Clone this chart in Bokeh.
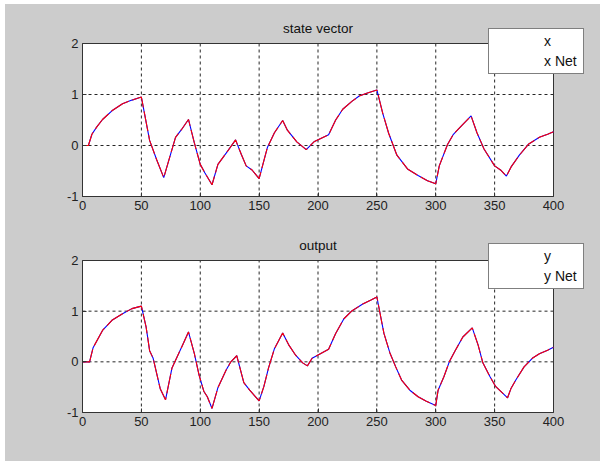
from bokeh.plotting import figure
from bokeh.models import Range1d, FixedTicker, Legend, LegendItem, Label, BoxAnnotation
from bokeh.core.properties import value
from bokeh.layouts import column
from bokeh.embed import file_html
from bokeh.resources import INLINE

# ---- data ----
t_x = [0, 5, 8, 12, 17, 25, 34, 42, 50, 57, 63, 69, 79, 84, 90, 95, 100, 104, 110,
       115, 122, 130, 135, 139, 144, 150, 157, 163, 170, 174, 182, 190, 197, 209,
       215, 221, 229, 235, 242, 250, 255, 260, 267, 276, 285, 293, 300, 303, 310,
       315, 322, 330, 335, 341, 350, 355, 360, 364, 371, 379, 388, 395, 400]
x_state = [0, 0, 0.22, 0.36, 0.51, 0.68, 0.82, 0.89, 0.95, 0.10, -0.28, -0.63, 0.16,
           0.31, 0.51, 0.05, -0.37, -0.54, -0.77, -0.37, -0.15, 0.11, -0.18, -0.40,
           -0.48, -0.65, -0.04, 0.25, 0.49, 0.30, 0.07, -0.08, 0.08, 0.21, 0.50,
           0.71, 0.87, 0.97, 1.03, 1.09, 0.63, 0.24, -0.19, -0.46, -0.59, -0.69,
           -0.75, -0.40, 0.02, 0.22, 0.39, 0.58, 0.25, -0.07, -0.40, -0.48, -0.60,
           -0.42, -0.19, 0.03, 0.16, 0.22, 0.27]
x_net = list(x_state)

t_y = [0, 6, 9, 17, 25, 34, 42, 50, 54, 57, 60, 66, 70.5, 76, 81, 86, 90, 95, 99,
       103, 106, 110, 115, 122, 126, 131, 137, 142, 150, 154, 158, 163, 170, 175,
       181, 187, 191, 195, 202, 209, 215, 222, 229, 238, 245, 250, 256, 261, 266,
       271, 278, 285, 292, 300, 302, 307, 311.5, 316, 323, 331, 336, 340, 346,
       351, 361, 364, 368, 375, 382, 388, 395, 400]
y_out = [0, 0, 0.28, 0.62, 0.82, 0.95, 1.05, 1.10, 0.69, 0.22, 0.07, -0.53, -0.75,
         -0.12, 0.13, 0.38, 0.59, 0.16, -0.26, -0.58, -0.69, -0.92, -0.51, -0.16,
         0.0, 0.12, -0.41, -0.56, -0.77, -0.49, -0.12, 0.26, 0.57, 0.34, 0.13,
         -0.02, -0.08, 0.07, 0.16, 0.25, 0.56, 0.85, 1.01, 1.14, 1.22, 1.28, 0.56,
         0.18, -0.10, -0.36, -0.56, -0.69, -0.78, -0.86, -0.56, -0.29, 0.0, 0.20,
         0.49, 0.67, 0.33, -0.02, -0.29, -0.49, -0.71, -0.52, -0.36, -0.10, 0.07,
         0.16, 0.23, 0.29]
y_net = list(y_out)

x_ticks = [0, 50, 100, 150, 200, 250, 300, 350, 400]
y_ticks = [-1, 0, 1, 2]
y_tick_labels = {-1: "-1", 0: "0", 1: "1", 2: "2"}

FONT = "Liberation Sans"
GREY = "#cccccc"
EDGE = "#333333"
BLUE = "#0000ff"
RED = "#ff0000"

OFF_X, OFF_Y = 5, 4     # white page strip left/top of the grey figure area
W = 600 - OFF_X
LEFT = 82 - OFF_X       # x=0 sits at page x 82
PX_PER_X = 471 / 400.0

# legend geometry (pixels, relative to the axes' bottom-left corner)
LEG_X = 406
LEG_PAD = 3
ROW_H = 18
ROW_GAP = 2
SAMPLE_X0, SAMPLE_X1 = 415, 457


def make_panel(title, t, s, s_net, lab, lab_net, height, top, bottom, axes_px, leg_y):
    frame_w = W - LEFT - 5
    frame_h = height - top - bottom
    px_per_y = axes_px / 3.0
    x0, x1 = x_ticks[0], x_ticks[-1]
    y0, y1 = y_ticks[0], y_ticks[-1]
    p = figure(width=W, height=height,
               x_range=Range1d(x0, x0 + frame_w / PX_PER_X),
               y_range=Range1d(y0, y0 + frame_h / px_per_y),
               output_backend="svg", toolbar_location=None,
               min_border_left=LEFT, min_border_right=5,
               min_border_top=top, min_border_bottom=bottom)
    p.title = None
    p.border_fill_color = GREY
    p.background_fill_color = GREY
    p.outline_line_color = None
    p.xgrid.visible = False
    p.ygrid.visible = False

    # white axes area
    p.add_layout(BoxAnnotation(left=x0, right=x1, bottom=y0, top=y1,
                               fill_color="white", fill_alpha=1,
                               line_color=None, level="image"))

    p.xaxis.ticker = FixedTicker(ticks=x_ticks)
    p.yaxis.ticker = FixedTicker(ticks=y_ticks)
    p.yaxis.major_label_overrides = y_tick_labels
    p.xaxis.bounds = (x0, x1)
    p.yaxis.bounds = (y0, y1)
    for ax in (p.xaxis, p.yaxis):
        ax.major_tick_in = 4
        ax.major_tick_out = 0
        ax.minor_tick_line_color = None
        ax.axis_line_color = EDGE
        ax.major_tick_line_color = EDGE
        ax.major_label_text_font = FONT
        ax.major_label_text_font_size = "13px"
        ax.major_label_text_color = "#222222"
    p.xaxis.major_label_standoff = 4
    p.yaxis.major_label_standoff = 4

    # dotted grid (MATLAB style), spanning the axes box only
    g1 = p.segment(x0=x_ticks, x1=x_ticks, y0=[y0] * len(x_ticks), y1=[y1] * len(x_ticks),
                   line_color="black", line_dash="3 3", line_alpha=0.85, line_width=1)
    g2 = p.segment(x0=[x0] * len(y_ticks), x1=[x1] * len(y_ticks), y0=y_ticks, y1=y_ticks,
                   line_color="black", line_dash="3 3", line_alpha=0.85, line_width=1)
    # top and right edges of the axes box
    g3 = p.segment(x0=[x0, x1], y0=[y1, y0], x1=[x1, x1], y1=[y1, y1],
                   line_color=EDGE, line_width=1)
    for g in (g1, g2, g3):
        g.level = "underlay"

    r1 = p.line(t, s, line_color=BLUE, line_width=1.1)
    r2 = p.line(t, s_net, line_color=RED, line_width=1.1, line_dash="20 4")

    # legend box and labels (item glyphs are drawn separately below)
    k1 = p.line([], [], line_color=BLUE, line_width=1.1)
    k2 = p.line([], [], line_color=RED, line_width=1.1, line_dash="24 6")
    legend = Legend(items=[LegendItem(label=value(lab), renderers=[k1]),
                           LegendItem(label=value(lab_net), renderers=[k2])],
                    location=(LEG_X, leg_y))
    legend.level = "annotation"
    legend.border_line_color = "black"
    legend.border_line_width = 1
    legend.background_fill_color = "white"
    legend.background_fill_alpha = 1
    legend.label_text_font = FONT
    legend.label_text_font_size = "14px"
    legend.label_text_color = "#111111"
    legend.glyph_width = 46
    legend.glyph_height = ROW_H
    legend.label_height = ROW_H
    legend.label_width = 36
    legend.label_standoff = 6
    legend.padding = LEG_PAD
    legend.spacing = ROW_GAP
    legend.margin = 0
    p.add_layout(legend)

    # legend sample lines, drawn over the legend box
    row2_px = leg_y + LEG_PAD + ROW_H / 2
    row1_px = row2_px + ROW_H + ROW_GAP
    sx0 = x0 + SAMPLE_X0 / PX_PER_X
    sx1 = x0 + SAMPLE_X1 / PX_PER_X
    ry1 = y0 + row1_px / px_per_y
    ry2 = y0 + row2_px / px_per_y
    p.segment(x0=[sx0], x1=[sx1], y0=[ry1], y1=[ry1],
              line_color=BLUE, line_width=1.1, level="overlay")
    p.segment(x0=[sx0], x1=[sx1], y0=[ry2], y1=[ry2],
              line_color=RED, line_width=1.1, line_dash="24 6", level="overlay")

    p.add_layout(Label(x=(x0 + x1) / 2, y=y1, text=title, text_align="center",
                       text_baseline="middle", y_offset=15,
                       text_font=FONT, text_font_size="13.5px",
                       text_color="#111111"))
    return p


# top panel: page y 4..228, axes box 43..196 ; bottom panel: page y 228..461, box 260..412
p1 = make_panel("state vector", t_x, x_state, x_net, "x", "x Net",
                224, 6, 32, 153, 122)
p2 = make_panel("output", t_y, y_out, y_net, "y", "y Net",
                233, 10, 49, 152, 123)

layout = column(p1, p2, spacing=0)
layout.margin = (OFF_Y, 0, 0, OFF_X)
layout.styles = {"background-color": GREY}

open("out.html", "w").write(file_html(layout, INLINE))
